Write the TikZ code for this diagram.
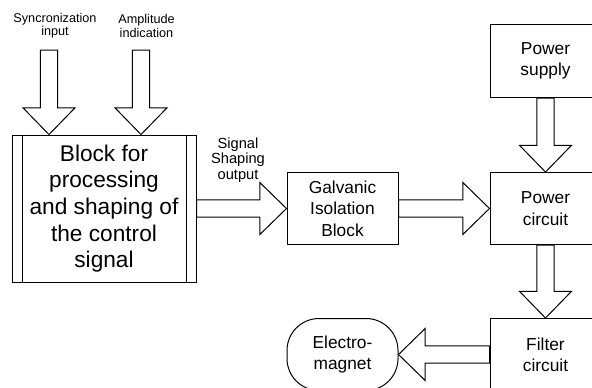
\documentclass[tikz,border=0pt]{standalone}
\usepackage{fontspec}
\setmainfont{Liberation Sans}
\usetikzlibrary{calc}
\newcommand\fatarr[2]{%
  \path ($(#2)!20pt!(#1)$) coordinate (fh);
  \draw[fatline] ($(#1)!6.5pt!90:(#2)$) -- ($(fh)!6.5pt!90:(#2)$) -- ($(fh)!19.5pt!90:(#2)$) -- (#2) -- ($(fh)!19.5pt!-90:(#2)$) -- ($(fh)!6.5pt!-90:(#2)$) -- ($(#1)!6.5pt!-90:(#2)$) -- cycle;}
\begin{document}
\begin{tikzpicture}[x=0.75pt,y=-0.75pt,line width=0.75pt,
  box/.style={draw,line width=0.75pt,fill=white,minimum width=83.25pt,minimum height=54pt,align=center,inner sep=0pt,font=\fontsize{13}{16}\selectfont},
  fatline/.style={draw,fill=white,line width=0.75pt,line join=miter},
  small/.style={align=center,inner sep=0pt,font=\fontsize{9.5}{10}\selectfont},
  mid/.style={align=center,inner sep=0pt,font=\fontsize{11}{11.5}\selectfont}]
\useasboundingbox (0,0) rectangle (592,387);
\clip (0,0) rectangle (592,387);
\fill[white] (0,0) rectangle (592,387);

% main block
\node[box,minimum width=138pt,minimum height=110.25pt,font=\fontsize{17}{20}\selectfont] (main) at (104,208.5) {Block for\\processing\\and shaping of\\the control\\signal};
\draw ($(main.north west)+(10.5,0)$) -- ($(main.south west)+(10.5,0)$);
\draw ($(main.north east)+(-10.5,0)$) -- ($(main.south east)+(-10.5,0)$);

% other blocks
\node[box] (galv) at (342.5,208.5) {Galvanic\\Isolation\\Block};
\node[box] (pc) at (545.5,208.5) {Power\\circuit};
\node[box,minimum height=55pt] (ps) at (545.5,61) {Power\\supply};
\node[box] (filt) at (545.5,354.5) {Filter\\circuit};
\node[box,rounded corners=24pt] (em) at (342.5,354.5) {Electro-\\magnet};

% labels
\node[small] (lsync) at (55,26) {Syncronization\\input};
\node[small] (lamp) at (146.5,26) {Amplitude\\indication};
\node[mid] (lsig) at (238,160) {Signal\\Shaping\\output};

% input coordinates
\coordinate (s1) at (49,50);
\coordinate (s2) at (141,50);
\coordinate (s1t) at (s1 |- main.north);
\coordinate (s2t) at (s2 |- main.north);

% fat arrows
\fatarr{s1}{s1t}
\fatarr{s2}{s2t}
\fatarr{main.east}{galv.west}
\fatarr{galv.east}{pc.west}
\fatarr{ps.south}{pc.north}
\fatarr{pc.south}{filt.north}
\fatarr{filt.west}{em.east}
\end{tikzpicture}
\end{document}
